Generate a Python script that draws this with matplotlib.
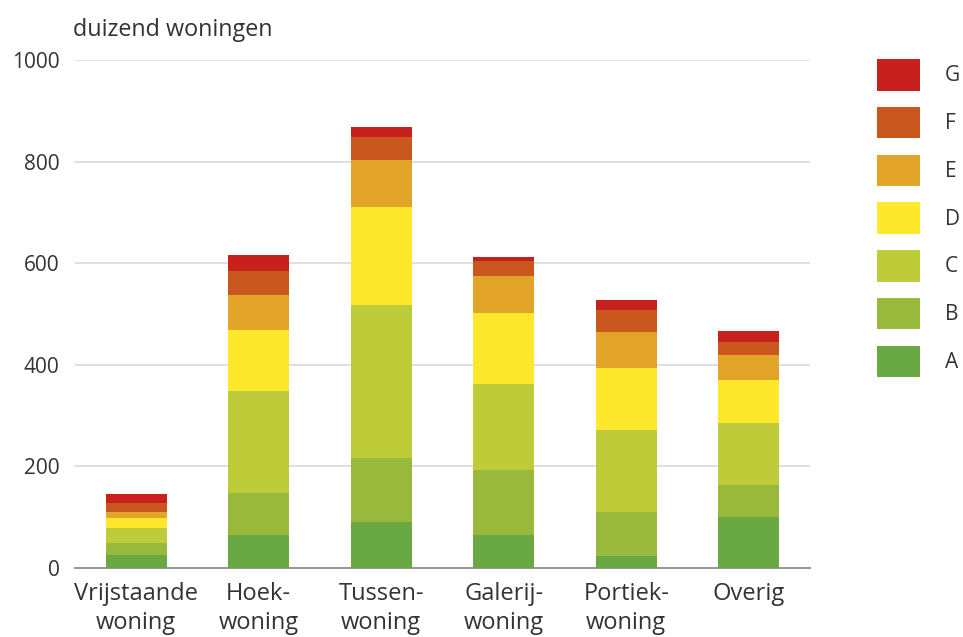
import numpy as np
import matplotlib.pyplot as plt

# Woningvoorraad naar type en energielabel (duizend woningen).
categories = ['Vrijstaande\nwoning', 'Hoek-\nwoning', 'Tussen-\nwoning',
              'Galerij-\nwoning', 'Portiek-\nwoning', 'Overig']
labels = ['A', 'B', 'C', 'D', 'E', 'F', 'G']
label_a = [25, 65, 91, 65, 23, 100]
label_b = [25, 82, 125, 128, 87, 63]
label_c = [28, 202, 301, 170, 161, 122]
label_d = [21, 120, 193, 139, 123, 85]
label_e = [12, 69, 93, 72, 70, 50]
label_f = [17, 46, 45, 30, 44, 25]
label_g = [18, 33, 20, 9, 20, 21]
yticks = [0, 200, 400, 600, 800, 1000]

series = [label_a, label_b, label_c, label_d, label_e, label_f, label_g]
colors = ['#6aa843', '#98b93b', '#bfcc3a', '#fee82c', '#e3a42a', '#c9571e', '#c8201c']

plt.rcParams['font.family'] = ['Open Sans', 'DejaVu Sans']
text_color = '#333333'

fig = plt.figure(figsize=(9.63, 6.37), dpi=100)
ax = fig.add_axes([75 / 963, (637 - 568) / 637, (810 - 75) / 963, (568 - 60) / 637])

x = np.arange(len(categories))
bottom = np.zeros(len(categories))
handles = []
for vals, col, lab in zip(series, colors, labels):
    b = ax.bar(x, vals, width=0.5, bottom=bottom, color=col, label=lab, zorder=3)
    handles.append(b)
    bottom += np.array(vals)

ax.set_xlim(-0.5, len(categories) - 0.5)
ax.set_ylim(0, 1000)
ax.set_yticks(yticks)
ax.set_yticklabels([str(v) for v in yticks])
ax.set_xticks(x)
ax.set_xticklabels(categories, fontsize=17, color=text_color, linespacing=1.3)
ax.tick_params(axis='y', length=0, pad=11, labelsize=15, labelcolor=text_color)
ax.tick_params(axis='x', length=0, pad=10)

ax.grid(axis='y', color='#d9d9d9', linewidth=1.2, zorder=0)
for side in ['top', 'right', 'left']:
    ax.spines[side].set_visible(False)
ax.spines['bottom'].set_color('#999999')
ax.spines['bottom'].set_linewidth(1.5)

fig.text(73 / 963, 1 - 30 / 637, 'duizend woningen', fontsize=16.8, color=text_color,
         ha='left', va='center')

fig.legend(handles[::-1], labels[::-1], loc='upper left',
           bbox_to_anchor=(877 / 963, 1 - 59 / 637), frameon=False,
           fontsize=15, labelcolor=text_color, handlelength=2.07, handleheight=1.95,
           labelspacing=0.78, handletextpad=1.2, borderpad=0, borderaxespad=0)

fig.savefig('out.png', dpi=100)
